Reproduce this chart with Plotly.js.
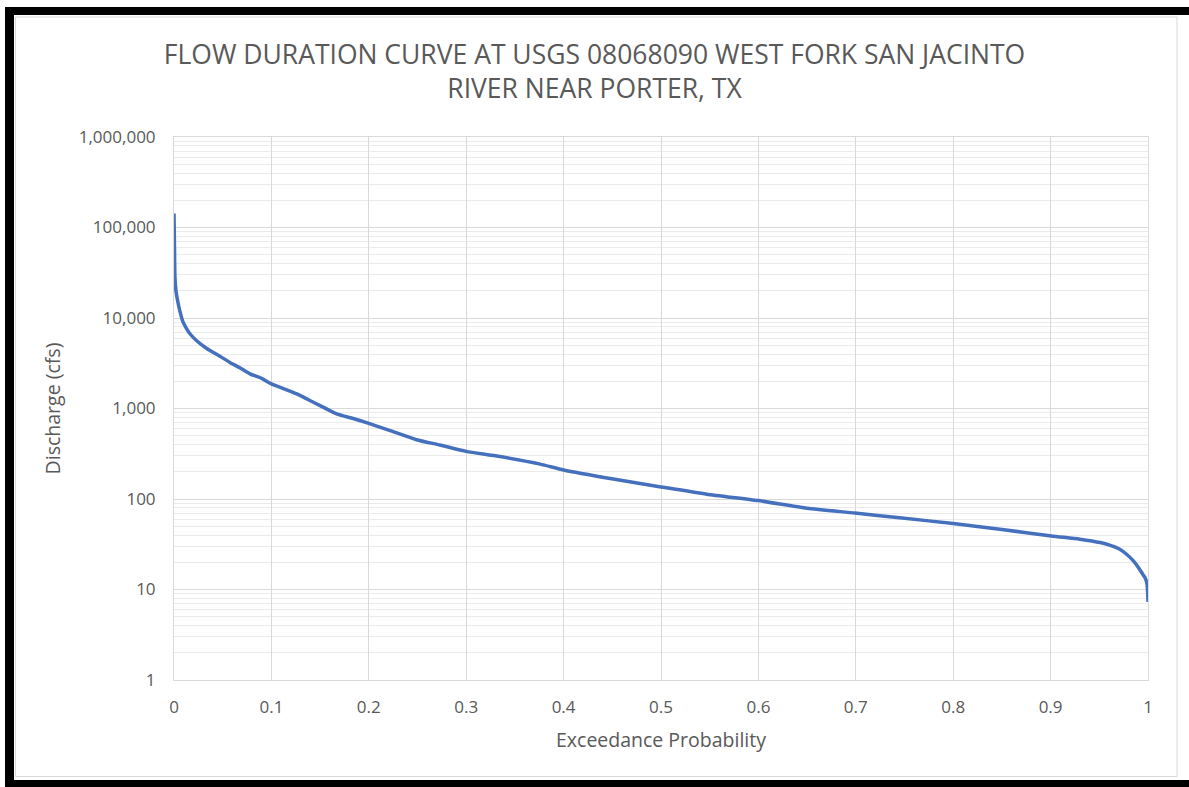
<!DOCTYPE html>
<html>
<head>
<meta charset="utf-8">
<script src="https://cdn.plot.ly/plotly-3.0.1.min.js"></script>
<style>
html,body{margin:0;padding:0;background:#fff;}
#chart{width:1189px;height:787px;}
</style>
</head>
<body>
<div id="chart"></div>
<script>
// Exceedance probability (x) and discharge in cfs (y)
const exceedance = [0, 0.0005, 0.001, 0.002, 0.004, 0.006, 0.009, 0.013, 0.0164, 0.023, 0.034, 0.045, 0.057, 0.068, 0.078, 0.09, 0.1, 0.113, 0.126, 0.138, 0.15, 0.167, 0.183, 0.2, 0.222, 0.249, 0.273, 0.3, 0.33, 0.376, 0.4, 0.451, 0.5, 0.547, 0.6, 0.65, 0.699, 0.745, 0.8, 0.85, 0.901, 0.93, 0.951, 0.962, 0.971, 0.978, 0.985, 0.991, 0.995, 0.997, 0.999, 1.0];
const discharge = [143000, 60000, 28000, 20000, 15000, 12000, 9200, 7600, 6700, 5650, 4570, 3900, 3250, 2800, 2415, 2150, 1870, 1650, 1450, 1250, 1077, 871, 780, 685, 569, 452, 395, 336, 300, 243, 209, 166, 136, 113, 96, 79, 70, 62, 53.6, 46, 39, 36, 33, 30.5, 27.9, 24.5, 20.7, 17, 14.5, 13.5, 11.5, 7.3];

const titleText = 'FLOW DURATION CURVE AT USGS 08068090 WEST FORK SAN JACINTO<br>RIVER NEAR PORTER, TX';
const xTitle = 'Exceedance Probability';
const yTitle = 'Discharge (cfs)';

const W = 1189, H = 787;
const M = {l: 174, r: 41, t: 137, b: 107};
const pw = W - M.l - M.r, ph = H - M.t - M.b;
const px = p => (p - M.l) / pw;
const py = p => (H - M.b - p) / ph;

const font = '"Open Sans", "Liberation Sans", sans-serif';
const grey = '#595959';

const trace = {
  x: exceedance,
  y: discharge,
  type: 'scatter',
  mode: 'lines',
  line: {color: '#4570BE', width: 3.5, shape: 'spline', smoothing: 0.6},
  hoverinfo: 'x+y',
  showlegend: false
};

const shapes = [
  // black frame: left, top, bottom
  {type: 'rect', xref: 'paper', yref: 'paper', x0: px(5), x1: px(14), y0: py(787), y1: py(7), fillcolor: '#000', line: {width: 0}, layer: 'above'},
  {type: 'rect', xref: 'paper', yref: 'paper', x0: px(5), x1: px(1189), y0: py(15), y1: py(7), fillcolor: '#000', line: {width: 0}, layer: 'above'},
  {type: 'rect', xref: 'paper', yref: 'paper', x0: px(5), x1: px(1189), y0: py(787), y1: py(780), fillcolor: '#000', line: {width: 0}, layer: 'above'},
  // light chart-area border
  {type: 'rect', xref: 'paper', yref: 'paper', x0: px(15.5), x1: px(1177), y0: py(776.5), y1: py(17), fillcolor: 'rgba(0,0,0,0)', line: {color: '#d9d9d9', width: 1}, layer: 'below'}
];

const layout = {
  width: W, height: H,
  margin: M,
  paper_bgcolor: '#fff',
  plot_bgcolor: '#fff',
  title: {
    text: titleText,
    font: {family: font, size: 26.5, color: grey},
    x: 0.5, xref: 'container', xanchor: 'center',
    y: 1 - 64 / H, yref: 'container', yanchor: 'middle'
  },
  xaxis: {
    range: [0, 1],
    dtick: 0.1,
    tick0: 0,
    showgrid: true,
    gridcolor: '#d9d9d9',
    gridwidth: 1,
    zeroline: false,
    showline: true,
    linecolor: '#d9d9d9',
    linewidth: 1,
    mirror: true,
    ticks: '',
    ticklabelstandoff: 12,
    tickfont: {family: font, size: 17, color: grey},
    title: {text: xTitle, font: {family: font, size: 19.5, color: grey}, standoff: 15}
  },
  yaxis: {
    type: 'log',
    range: [0, 6],
    dtick: 1,
    tickformat: ',.0f',
    showgrid: true,
    gridcolor: '#d9d9d9',
    gridwidth: 1,
    zeroline: false,
    showline: true,
    linecolor: '#d9d9d9',
    linewidth: 1,
    mirror: true,
    ticks: '',
    ticklabelstandoff: 14,
    tickfont: {family: font, size: 17, color: grey},
    minor: {dtick: 'D1', showgrid: true, gridcolor: '#ebebeb', gridwidth: 1, ticks: ''},
    title: {text: yTitle, font: {family: font, size: 19.5, color: grey}, standoff: 12}
  },
  shapes: shapes
};

Plotly.newPlot('chart', [trace], layout, {displayModeBar: false, staticPlot: true});
</script>
</body>
</html>
